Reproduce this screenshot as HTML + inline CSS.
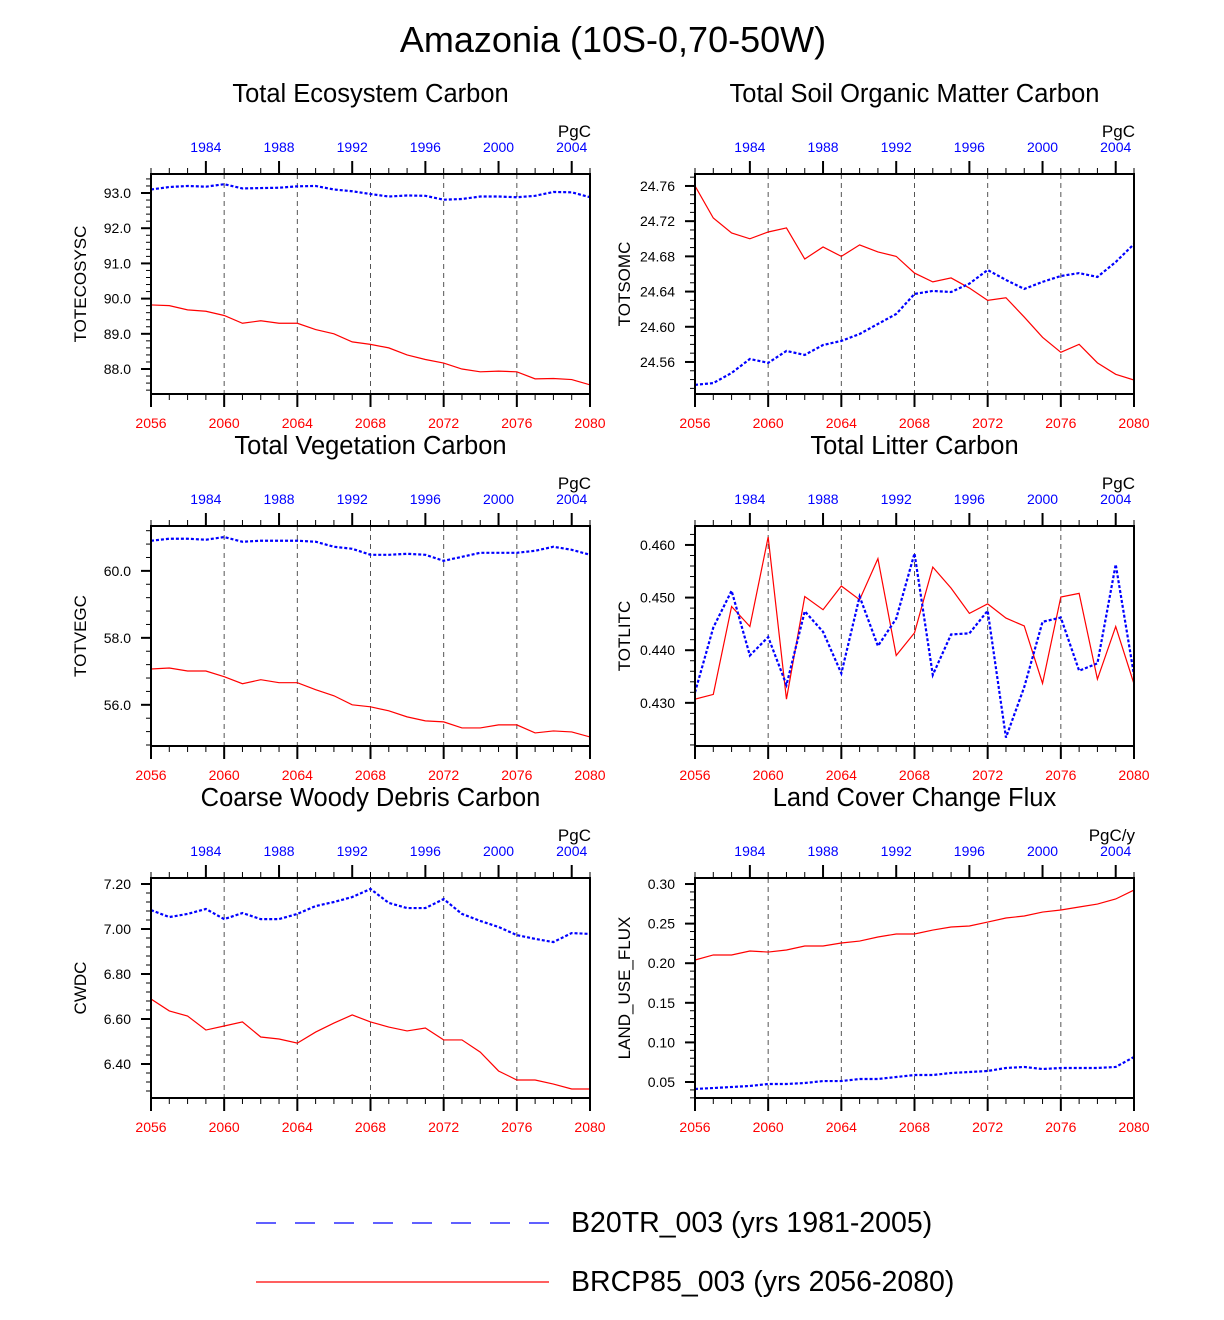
<!DOCTYPE html>
<html><head><meta charset="utf-8"><style>
html,body{margin:0;padding:0;background:#fff;}
svg{display:block;font-family:"Liberation Sans",Arial,sans-serif;}
</style></head><body>
<svg id="chart" width="1224" height="1320" viewBox="0 0 1224 1320" xmlns="http://www.w3.org/2000/svg">
<text x="613" y="52" font-size="36" text-anchor="middle">Amazonia (10S-0,70-50W)</text>
<g>
<line x1="256" y1="1223" x2="549" y2="1223" stroke="#0000ff" stroke-width="1.2" stroke-dasharray="20,19"/>
<text x="571" y="1232" font-size="28.5">B20TR_003 (yrs 1981-2005)</text>
<line x1="256" y1="1282" x2="549" y2="1282" stroke="#ff0000" stroke-width="1.2"/>
<text x="571" y="1291" font-size="28.5">BRCP85_003 (yrs 2056-2080)</text>
</g>
</svg>
<script>
const years = [2056,2057,2058,2059,2060,2061,2062,2063,2064,2065,2066,2067,2068,2069,2070,2071,2072,2073,2074,2075,2076,2077,2078,2079,2080];
const bottomTickLabels = ["2056","2060","2064","2068","2072","2076","2080"];
const topTickLabels = ["1984","1988","1992","1996","2000","2004"];

const ecoRed = [89.82,89.8,89.68,89.64,89.52,89.3,89.37,89.3,89.3,89.12,89.0,88.77,88.7,88.6,88.4,88.27,88.17,88.0,87.92,87.94,87.92,87.72,87.73,87.7,87.55];
const ecoBlue = [93.1,93.17,93.2,93.18,93.25,93.13,93.14,93.15,93.19,93.2,93.1,93.05,92.97,92.9,92.93,92.92,92.81,92.83,92.9,92.9,92.88,92.92,93.03,93.02,92.88];
const ecoTicks = [88.0,89.0,90.0,91.0,92.0,93.0];

const somRed = [24.76,24.7236,24.7066,24.7,24.7077,24.7123,24.677,24.6907,24.68,24.693,24.685,24.68,24.661,24.651,24.6555,24.644,24.63,24.633,24.611,24.588,24.571,24.58,24.559,24.546,24.5395];
const somBlue = [24.534,24.536,24.5475,24.5634,24.559,24.5725,24.568,24.5793,24.5839,24.5918,24.6032,24.6145,24.6373,24.6407,24.6395,24.649,24.6645,24.6532,24.643,24.651,24.6577,24.661,24.6566,24.6736,24.694];
const somTicks = [24.56,24.60,24.64,24.68,24.72,24.76];

const vegRed = [57.07,57.1,57.01,57.01,56.84,56.63,56.75,56.66,56.66,56.45,56.27,56.0,55.94,55.82,55.64,55.52,55.49,55.31,55.31,55.4,55.4,55.16,55.22,55.19,55.04];
const vegBlue = [60.9,60.96,60.96,60.93,61.01,60.87,60.9,60.9,60.9,60.87,60.72,60.66,60.48,60.48,60.51,60.48,60.3,60.42,60.54,60.54,60.54,60.6,60.72,60.63,60.48];
const vegTicks = [56.0,58.0,60.0];

const litRed = [0.4307,0.4316,0.4483,0.4445,0.4615,0.4307,0.4502,0.4477,0.4522,0.4496,0.4574,0.4390,0.4433,0.4558,0.4518,0.4470,0.4488,0.4461,0.4446,0.4337,0.4501,0.4508,0.4345,0.4445,0.4336];
const litBlue = [0.4320,0.4443,0.4513,0.4390,0.4425,0.4334,0.4474,0.4435,0.4356,0.4502,0.4408,0.4460,0.4584,0.4353,0.4430,0.4432,0.4475,0.4234,0.4330,0.4454,0.4462,0.4361,0.4375,0.4563,0.4353];
const litTicks = [0.430,0.440,0.450,0.460];

const cwdRed = [6.689,6.636,6.613,6.551,6.569,6.587,6.52,6.511,6.493,6.542,6.582,6.618,6.587,6.564,6.547,6.56,6.507,6.507,6.453,6.369,6.329,6.329,6.311,6.289,6.289];
const cwdBlue = [7.084,7.053,7.067,7.089,7.044,7.071,7.044,7.044,7.067,7.102,7.12,7.142,7.178,7.116,7.093,7.093,7.133,7.067,7.036,7.009,6.973,6.956,6.942,6.982,6.978];
const cwdTicks = [6.40,6.60,6.80,7.00,7.20];

const lucRed = [0.204,0.2104,0.2104,0.2154,0.2141,0.2167,0.2217,0.2217,0.2255,0.228,0.2331,0.2369,0.2369,0.2419,0.2457,0.247,0.252,0.2571,0.2596,0.2646,0.2672,0.271,0.2747,0.2811,0.2924];
const lucBlue = [0.0412,0.0424,0.0437,0.045,0.0475,0.0475,0.0487,0.0512,0.0512,0.0538,0.0538,0.0563,0.0588,0.0588,0.0614,0.0626,0.0639,0.0677,0.069,0.0664,0.0677,0.0677,0.0677,0.069,0.0816];
const lucTicks = [0.05,0.10,0.15,0.20,0.25,0.30];

const NS = "http://www.w3.org/2000/svg";
const svg = document.getElementById('chart');
function mk(tag, attrs, parent){const e=document.createElementNS(NS,tag);for(const k in attrs)e.setAttribute(k,attrs[k]);parent.appendChild(e);return e;}

function panel(cfg){
  const g = mk('g',{},svg);
  
  
  const L=cfg.x, T=cfg.y, W=439, H=220, R=L+W, B=T+H;
  const xs = v => L + (v-2056)/(2080-2056)*W;
  const ys = v => B - (v-cfg.ymin)/(cfg.ymax-cfg.ymin)*H;
  const t = mk('text',{x:L+W/2,y:T-72,'font-size':25.5,'text-anchor':'middle'},g);
  t.textContent=cfg.title;
  
  
  const u = mk('text',{x:R+1,y:T-37,'font-size':17,'text-anchor':'end'},g);
  u.textContent=cfg.units;
  
  
  const yt = mk('text',{x:0,y:0,'font-size':17,'text-anchor':'middle',transform:`translate(${L-65},${T+H/2}) rotate(-90)`},g);
  yt.textContent=cfg.ylabel;
  
  
  for(let yr=2060; yr<2080; yr+=4){
    const l=mk('line',{x1:xs(yr),x2:xs(yr),y1:T,y2:B,stroke:'#555','stroke-width':1,'stroke-dasharray':'5,4'},g);
    
    
  }
  years.forEach(yr=>{
    const major=(yr-2056)%4===0;
    mk('line',{x1:xs(yr),x2:xs(yr),y1:B,y2:B+(major?13:6),stroke:'#000','stroke-width':major?2:1},g);
    const tmaj=((yr-75)-1984)%4===0 && yr-75>=1984;
    mk('line',{x1:xs(yr),x2:xs(yr),y1:T,y2:T-(tmaj?13:6),stroke:'#000','stroke-width':tmaj?2:1},g);
  });
  bottomTickLabels.forEach(s=>{
    const e=mk('text',{x:xs(+s),y:B+34,'font-size':14,fill:'#ff0000','text-anchor':'middle'},g);
    e.textContent=s;
    
    
  });
  topTickLabels.forEach(s=>{
    const e=mk('text',{x:xs(+s+75),y:T-22,'font-size':14,fill:'#0000ff','text-anchor':'middle'},g);
    e.textContent=s;
    
    
  });
  const m0=Math.ceil(cfg.ymin/cfg.minor-1e-6);
  for(let k=m0; k*cfg.minor<=cfg.ymax+1e-9; k++){
    const y=ys(k*cfg.minor);
    mk('line',{x1:L,x2:L-5,y1:y,y2:y,stroke:'#000','stroke-width':1},g);
  }
  cfg.ticks.forEach(v=>{
    const y=ys(v);
    mk('line',{x1:L,x2:L-10,y1:y,y2:y,stroke:'#000','stroke-width':2},g);
    const e=mk('text',{x:L-20,y:y+5,'font-size':14,'text-anchor':'end'},g);
    e.textContent=v.toFixed(cfg.dec);
    
    
  });
  const clipId='clip-'+cfg.name;
  const cp=mk('clipPath',{id:clipId},g); mk('rect',{x:L,y:T,width:W,height:H},cp);
  const pr=mk('polyline',{points:cfg.red.map((v,i)=>xs(years[i])+','+ys(v)).join(' '),fill:'none',stroke:'#ff0000','stroke-width':1.2,'clip-path':`url(#${clipId})`},g);
  
  
  const pb=mk('polyline',{points:cfg.blue.map((v,i)=>xs(years[i])+','+ys(v)).join(' '),fill:'none',stroke:'#0000ff','stroke-width':2.2,'stroke-dasharray':'3,2','clip-path':`url(#${clipId})`},g);
  
  
  const fr=mk('rect',{x:L,y:T,width:W,height:H,fill:'none',stroke:'#000','stroke-width':2},g);
  
  
}

const LX=151, RX=695, R1=174, R2=526, R3=878;
panel({name:'total-ecosystem-carbon',title:'Total Ecosystem Carbon',units:'PgC',ylabel:'TOTECOSYSC',x:LX,y:R1,ymin:87.29,ymax:93.54,ticks:ecoTicks,minor:0.2,dec:1,red:ecoRed,blue:ecoBlue});
panel({name:'total-soil-carbon',title:'Total Soil Organic Matter Carbon',units:'PgC',ylabel:'TOTSOMC',x:RX,y:R1,ymin:24.5236,ymax:24.7736,ticks:somTicks,minor:0.01,dec:2,red:somRed,blue:somBlue});
panel({name:'total-vegetation-carbon',title:'Total Vegetation Carbon',units:'PgC',ylabel:'TOTVEGC',x:LX,y:R2,ymin:54.77,ymax:61.34,ticks:vegTicks,minor:0.4,dec:1,red:vegRed,blue:vegBlue});
panel({name:'total-litter-carbon',title:'Total Litter Carbon',units:'PgC',ylabel:'TOTLITC',x:RX,y:R2,ymin:0.4218,ymax:0.4636,ticks:litTicks,minor:0.002,dec:3,red:litRed,blue:litBlue});
panel({name:'coarse-woody-debris-carbon',title:'Coarse Woody Debris Carbon',units:'PgC',ylabel:'CWDC',x:LX,y:R3,ymin:6.2489,ymax:7.2267,ticks:cwdTicks,minor:0.04,dec:2,red:cwdRed,blue:cwdBlue});
panel({name:'land-cover-change-flux',title:'Land Cover Change Flux',units:'PgC/y',ylabel:'LAND_USE_FLUX',x:RX,y:R3,ymin:0.0298,ymax:0.3076,ticks:lucTicks,minor:0.01,dec:2,red:lucRed,blue:lucBlue});
</script>
</body></html>
